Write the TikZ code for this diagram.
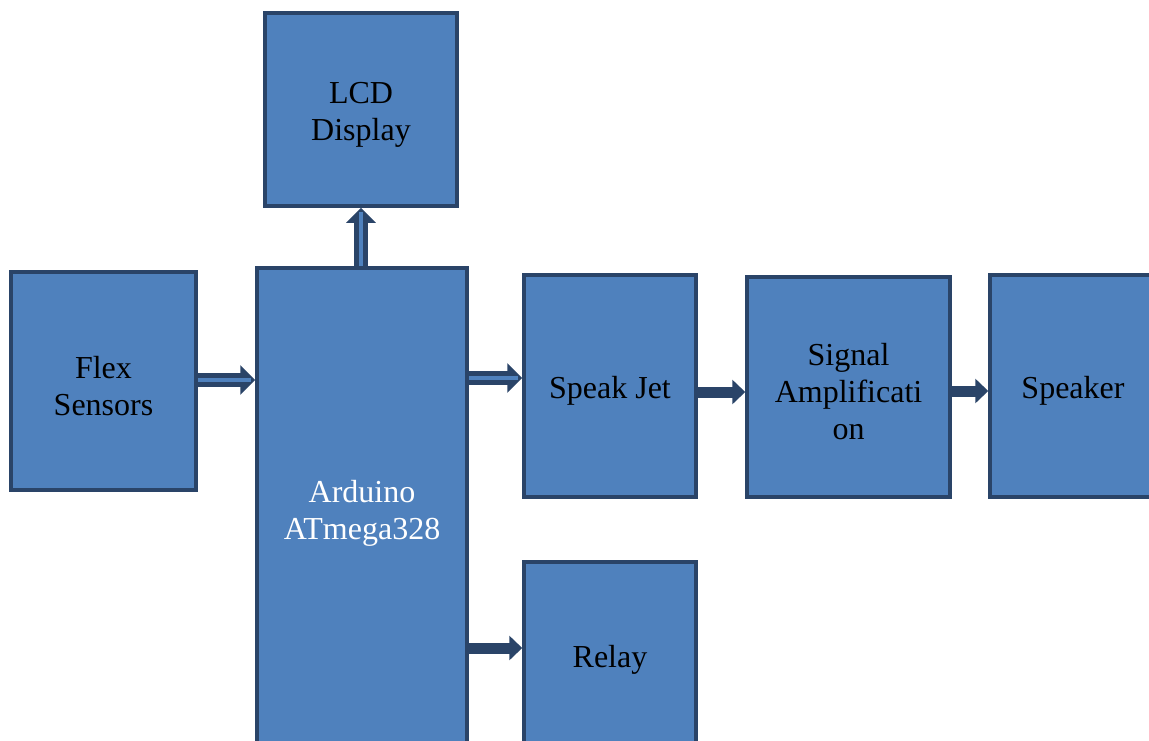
\documentclass[tikz,border=0pt]{standalone}
\usepackage{fontspec}
\setmainfont{Liberation Serif}
\usetikzlibrary{arrows.meta,calc}
\definecolor{boxfill}{HTML}{4F81BD}
\definecolor{boxline}{HTML}{2A4468}
\begin{document}
\begin{tikzpicture}[x=0.5pt,y=-0.5pt,
 blk/.style 2 args={draw=boxline,fill=boxfill,line width=1.75pt,inner sep=0pt,
   minimum width=#1*0.5pt,minimum height=#2*0.5pt},
 txt/.style={align=center,inner sep=0pt,yshift=-2.5pt,font=\fontsize{16}{18.5}\selectfont},
 solidarr/.style={draw=boxline,line width=5.5pt,-{Triangle[width=12pt,length=6.5pt]}},
 hollowarr/.style={draw=boxline,line width=7pt,-{Triangle[width=14.5pt,length=7.5pt]},
   postaction={draw=boxfill,line width=2pt,arrows=-,shorten >=2pt}}]
\clip (0,0) rectangle (1149,740);
\useasboundingbox (0,0) rectangle (1149,740);
\node[blk={185}{218},label={[txt]center:Flex\\Sensors}] (flex) at (103.5,381) {};
\node[blk={210}{480},label={[txt,text=white]center:Arduino\\ATmega328}] (ard) at (362,508) {};
\node[blk={192}{193},label={[txt]center:LCD\\Display}] (lcd) at (361,109.5) {};
\node[blk={172}{222},label={[txt]center:Speak Jet}] (jet) at (610,386) {};
\node[blk={203}{220},label={[txt]center:Signal\\Amplificati\\on}] (amp) at (848.5,387) {};
\node[blk={166}{222},label={[txt]center:Speaker}] (spk) at (1073,386) {};
\node[blk={172}{186},label={[txt]center:Relay}] (relay) at (610,655) {};
% connectors
\draw[hollowarr] (flex.east |- 0,380) -- (ard.west |- 0,380);
\draw[hollowarr] (ard.east |- 0,378) -- (jet.west |- 0,378);
\draw[hollowarr] (lcd.south |- ard.north) -- (lcd.south);
\draw[solidarr] (jet.east |- 0,392) -- (amp.west |- 0,392);
\draw[solidarr] (amp.east |- 0,391) -- (spk.west |- 0,391);
\draw[solidarr] (ard.east |- 0,648) -- (relay.west |- 0,648);
\end{tikzpicture}
\end{document}
